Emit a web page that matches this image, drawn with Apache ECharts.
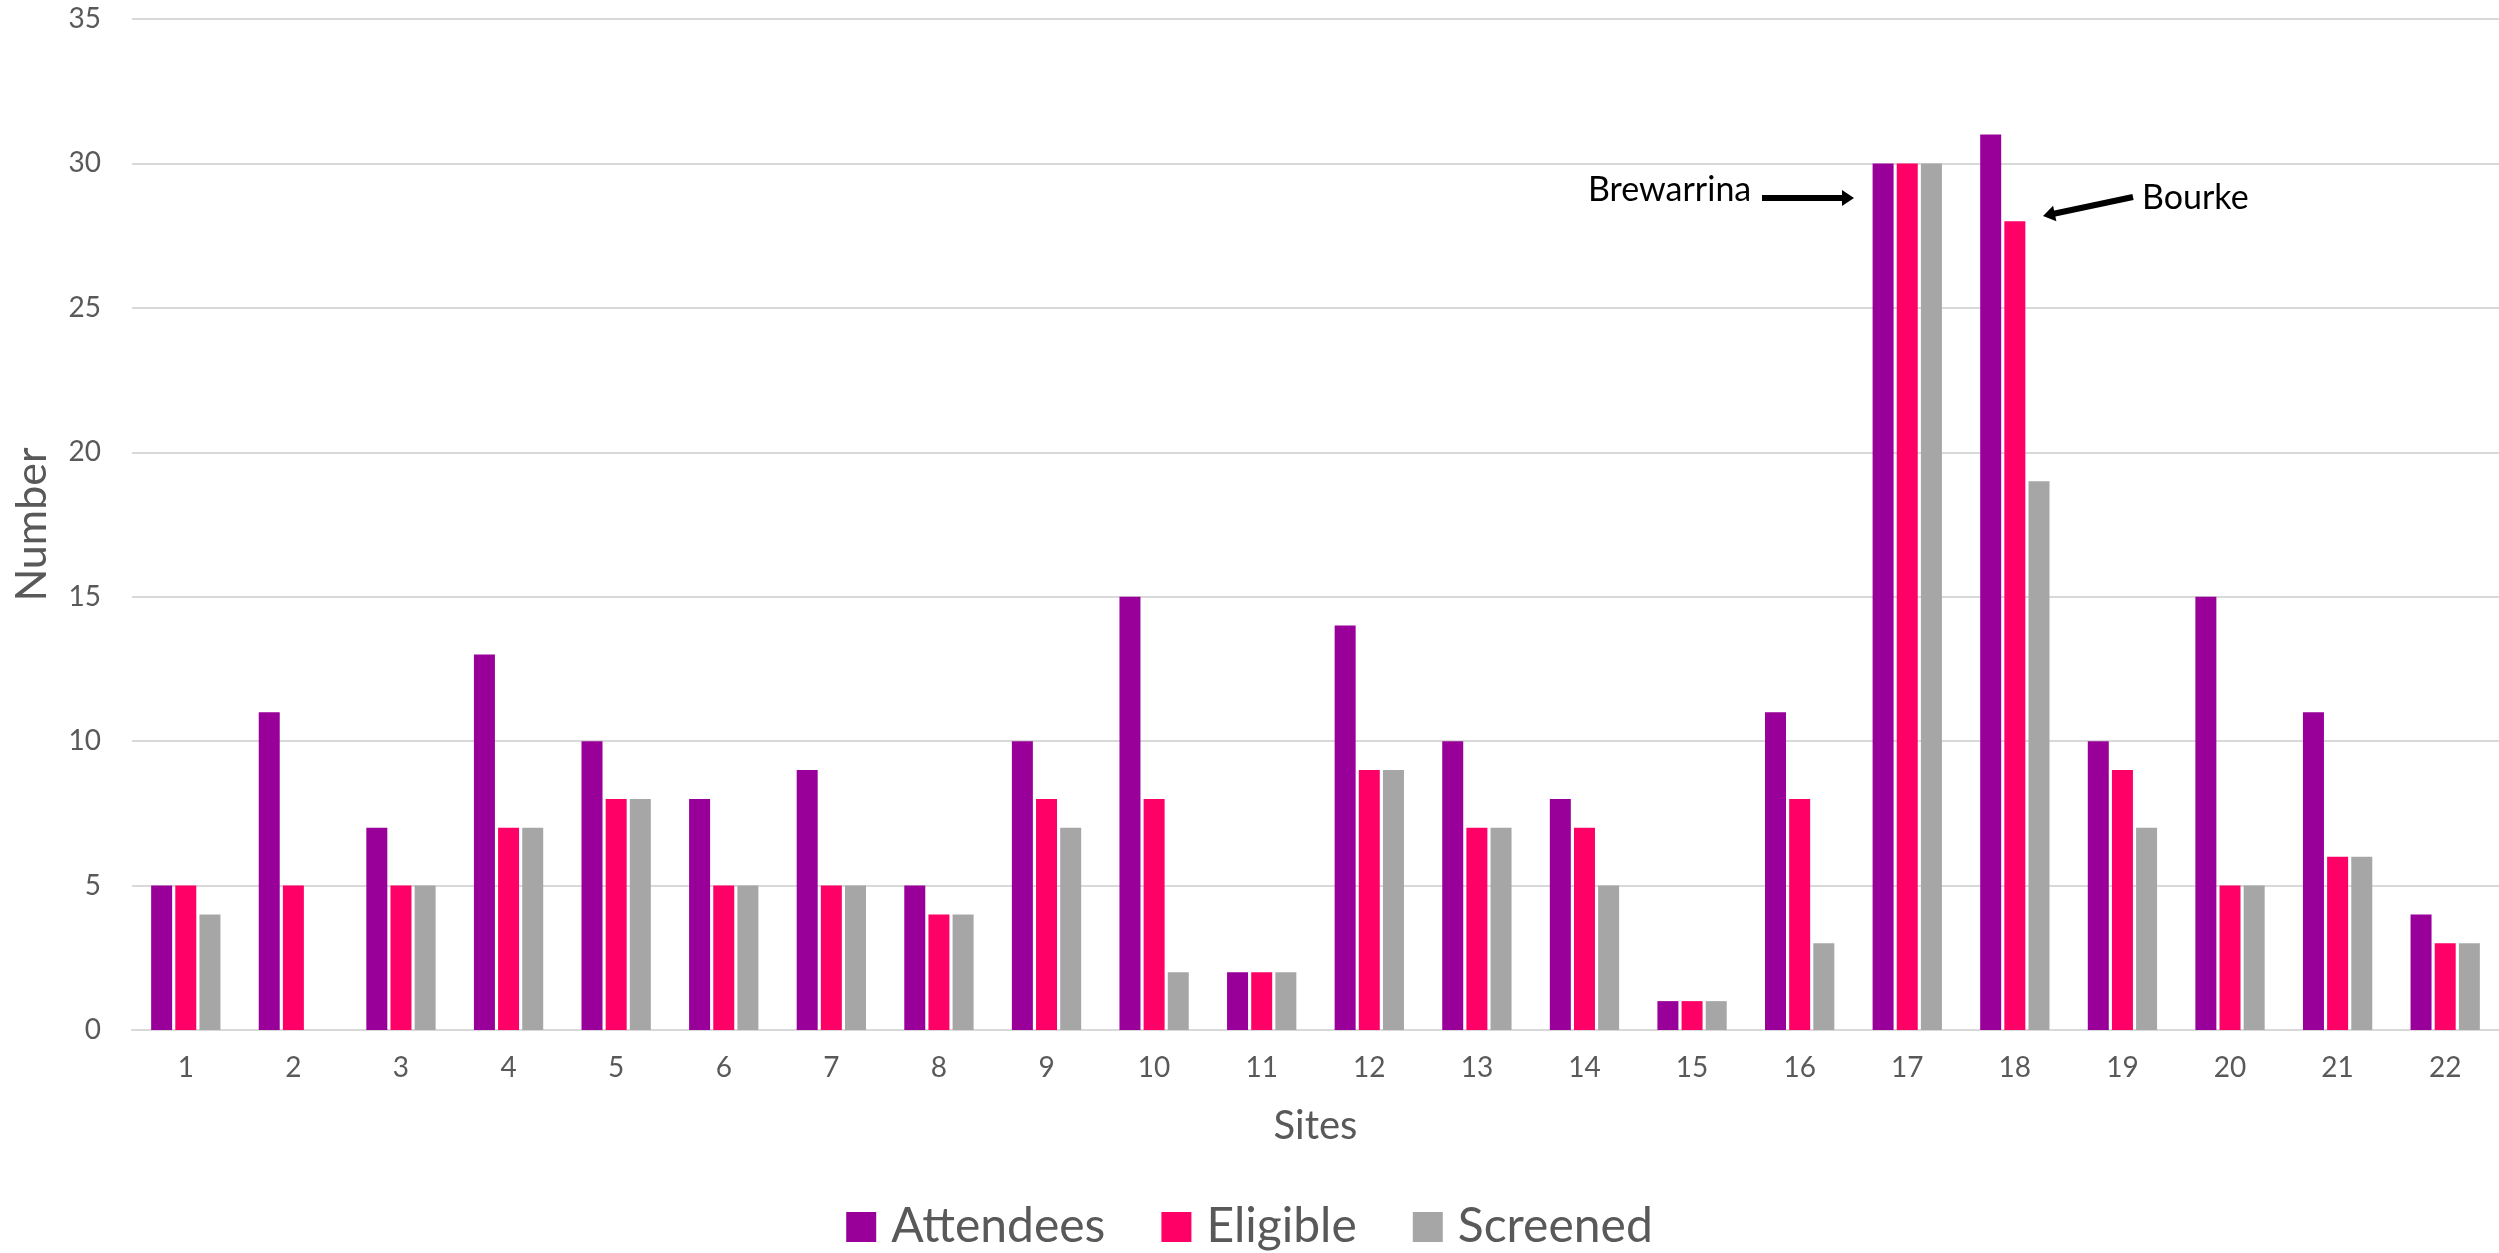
<!DOCTYPE html>
<html>
<head>
<meta charset="utf-8">
<script src="https://cdn.jsdelivr.net/npm/echarts@6/dist/echarts.min.js"></script>
<style>
html,body{margin:0;padding:0;background:#fff;}
#chart{width:2499px;height:1253px;}
</style>
</head>
<body>
<div id="chart"></div>
<script>
const sites = ['1','2','3','4','5','6','7','8','9','10','11','12','13','14','15','16','17','18','19','20','21','22'];
const attendees = [5,11,7,13,10,8,9,5,10,15,2,14,10,8,1,11,30,31,10,15,11,4];
const eligible  = [5,5,5,7,8,5,5,4,8,8,2,9,7,7,1,8,30,28,9,5,6,3];
const screened  = [4,0,5,7,8,5,5,4,7,2,2,9,7,5,1,3,30,19,7,5,6,3];
const seriesNames = ['Attendees','Eligible','Screened'];
const yTicks = {min:0, max:35, interval:5};

const FONT = 'Lato';
const TXT = '#595959';
const colors = ['#990099','#FF0066','#A6A6A6'];

function arrow(x1,y1,x2,y2,w,headLen,headHalf){
  const dx=x2-x1, dy=y2-y1, L=Math.sqrt(dx*dx+dy*dy);
  const ux=dx/L, uy=dy/L, px=-uy, py=ux;
  const bx=x2-ux*headLen, by=y2-uy*headLen;
  return [
    {type:'line', shape:{x1:x1,y1:y1,x2:bx+ux*1,y2:by+uy*1}, style:{stroke:'#000',lineWidth:w}, z:100},
    {type:'polygon', shape:{points:[[x2,y2],[bx+px*headHalf,by+py*headHalf],[bx-px*headHalf,by-py*headHalf]]}, style:{fill:'#000'}, z:100}
  ];
}

const chart = echarts.init(document.getElementById('chart'), null, {renderer:'canvas'});
const mk = (name, data, i) => ({
  name: name, type:'bar', data: data,
  barWidth: 21, barGap: '15%',
  itemStyle:{color: colors[i]},
  emphasis:{disabled:true}
});

chart.setOption({
  animation:false,
  backgroundColor:'#fff',
  textStyle:{fontFamily:FONT},
  grid:{left:132, right:-1, top:19, bottom:223},
  legend:{
    data: seriesNames,
    left:'center', top:1202, padding:0,
    itemWidth:30, itemHeight:30, itemGap:56,
    icon:'rect',
    textStyle:{fontFamily:FONT, fontSize:48, color:TXT, lineHeight:50, padding:[0,0,0,10]}
  },
  xAxis:{
    type:'category', data: sites,
    axisTick:{show:false},
    axisLine:{show:true, lineStyle:{color:'#D9D9D9', width:2}},
    axisLabel:{fontFamily:FONT, fontSize:28, color:TXT, margin:24},
    name:'Sites', nameLocation:'middle', nameGap:76,
    nameTextStyle:{fontFamily:FONT, fontSize:40, color:TXT}
  },
  yAxis:{
    type:'value', min:yTicks.min, max:yTicks.max, interval:yTicks.interval,
    axisLine:{show:false}, axisTick:{show:false},
    splitLine:{lineStyle:{color:'#D9D9D9', width:2}},
    axisLabel:{fontFamily:FONT, fontSize:28, color:TXT, margin:31},
    name:'Number', nameLocation:'middle', nameGap:78,
    nameTextStyle:{fontFamily:FONT, fontSize:43, color:TXT}
  },
  series:[mk(seriesNames[0],attendees,0), mk(seriesNames[1],eligible,1), mk(seriesNames[2],screened,2)],
  graphic:[
    {type:'text', left:1588, top:173, style:{text:'Brewarrina', font:'34px Lato', fill:'#000'}, z:100},
    {type:'text', left:2142, top:181, style:{text:'Bourke', font:'34px Lato', fill:'#000'}, z:100}
  ].concat(arrow(1762,198,1854,198,6,12,8)).concat(arrow(2133,197,2043,216,6,12,8))
});
</script>
</body>
</html>
